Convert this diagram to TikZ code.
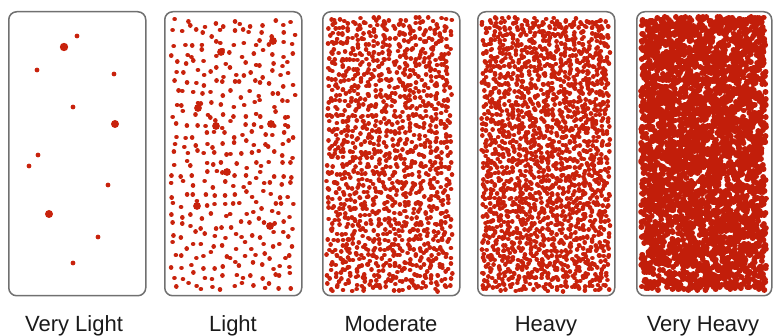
\documentclass[tikz,border=0pt]{standalone}
\usepackage{fontspec}
\setmainfont{Liberation Sans}
\definecolor{dotred}{RGB}{200,34,12}
\definecolor{darkred}{RGB}{194,30,10}
\definecolor{boxgray}{RGB}{112,112,112}
\definecolor{labtext}{RGB}{26,26,26}
\tikzset{
  box/.style={draw=boxgray, line width=1.5pt, rounded corners=8pt, minimum width=137pt, minimum height=284pt, anchor=north west, inner sep=0pt},
  dot/.style={fill=dotred},
  dots/.style={draw=dotred, line cap=round, line width=#1},
  lab/.style={anchor=base, text=labtext, font=\fontsize{22}{26}\selectfont, inner sep=0pt}
}
\begin{document}
\begin{tikzpicture}[x=1pt,y=-1pt]
\useasboundingbox (0,0) rectangle (774,336);
\pgfmathsetseed{4217}
% Very Light
\foreach \px/\py/\r in {77/36/2.4, 64/47/4.2, 37/70/2.4, 114/74/2.4, 73/107/2.4, 115/124/4.0, 38/155/2.4, 29/166/2.4, 108/185/2.4, 49/214/4.0, 98/237/2.4, 73/263/2.4}
  \fill[dot] (\px,\py) circle (\r);
% Light (jittered grid)
\draw[dots=4.6] \foreach \c in {0,...,12} { \foreach \r in {0,...,26} {
  ({170+(\c+0.5)*9.7+4*rand},{18+(\r+0.5)*10.1+4*rand}) -- ++(0.05,0) } };
\foreach \px/\py in {273/41, 221/52, 198/108, 271/124, 227/172, 197/206, 270/226, 216/126}
  \fill[dot] (\px,\py) circle (3.9);
% Moderate (jittered grid)
\draw[dots=4.6] \foreach \c in {0,...,23} { \foreach \r in {0,...,52} {
  ({327+(\c+0.5)*5.2+3.2*rand},{18+(\r+0.5)*5.15+3.2*rand}) -- ++(0.05,0) } };
% Heavy (jittered grid)
\draw[dots=4.6] \foreach \c in {0,...,28} { \foreach \r in {0,...,61} {
  ({482+(\c+0.5)*4.4+2.8*rand},{18+(\r+0.5)*4.4+2.8*rand}) -- ++(0.05,0) } };
% Very Heavy
\draw[dots=5.8, draw=darkred] \foreach \i in {1,...,3300} { ({641+125*rnd},{17+273*rnd}) -- ++(0.05,0) };
% Boxes
\node[box] (b1) at (8,11) {};
\node[box] (b2) at (164,11) {};
\node[box] (b3) at (322,11) {};
\node[box] (b4) at (477,11) {};
\node[box, minimum width=135pt] (b5) at (636,11) {};
% Labels
\node[lab] (t1) at (74,332) {Very Light};
\node[lab] (t2) at (233,332) {Light};
\node[lab] (t3) at (391,332) {Moderate};
\node[lab] (t4) at (546,332) {Heavy};
\node[lab] (t5) at (703,332) {Very Heavy};
\end{tikzpicture}
\end{document}
